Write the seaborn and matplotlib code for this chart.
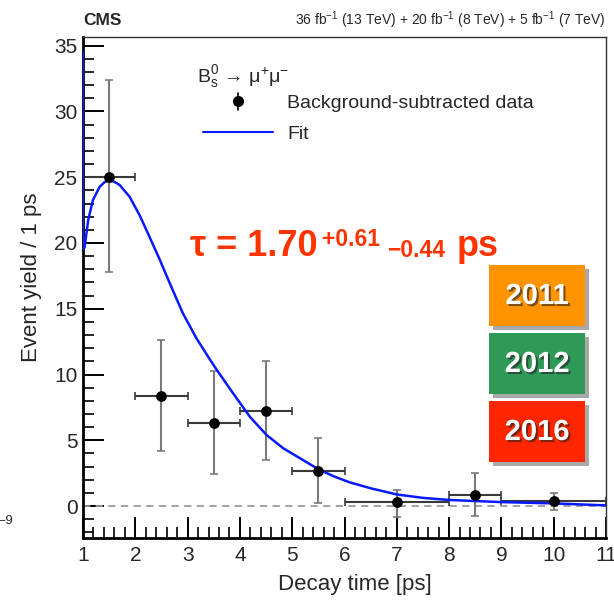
import numpy as np
import pandas as pd
import matplotlib
matplotlib.use("Agg")
import matplotlib.pyplot as plt
import matplotlib.patheffects as pe
from matplotlib.lines import Line2D
from matplotlib.patches import Rectangle
from matplotlib.ticker import MultipleLocator
import seaborn as sns

# ---- data ----
t_center = [1.5, 2.5, 3.5, 4.5, 5.5, 7.0, 8.5, 10.0]
t_halfwidth = [0.5, 0.5, 0.5, 0.5, 0.5, 1.0, 0.5, 1.0]
yield_val = [25.0, 8.35, 6.35, 7.2, 2.65, 0.3, 0.85, 0.4]
yield_hi = [32.4, 12.6, 10.3, 11.0, 5.15, 1.2, 2.5, 1.0]
yield_lo = [17.8, 4.2, 2.4, 3.5, 0.2, -0.85, -0.75, -0.3]

fit_t = [1.0, 1.0, 1.03, 1.1, 1.19, 1.32, 1.42, 1.51, 1.6, 1.7, 1.89, 2.08, 2.27,
         2.47, 2.66, 2.91, 3.17, 3.42, 3.56, 3.87, 4.19, 4.51, 4.83, 5.15, 5.5,
         5.8, 6.1, 6.5, 7.0, 7.5, 8.0, 9.0, 10.0, 11.0]
fit_y = [34.5, 19.5, 19.67, 21.75, 23.27, 24.28, 24.65, 24.74, 24.65, 24.41, 23.52,
         22.13, 20.48, 18.71, 16.93, 14.65, 12.75, 11.18, 10.34, 8.57, 6.79, 5.40,
         4.39, 3.63, 2.8, 2.25, 1.8, 1.35, 0.88, 0.62, 0.46, 0.3, 0.2, 0.05]

years = ["2011", "2012", "2016"]
year_colors = ["#ff9300", "#2f9a58", "#ff2600"]

x_ticks = list(range(1, 12))
y_ticks = [0, 5, 10, 15, 20, 25, 30, 35]

df = pd.DataFrame({"t": t_center, "y": yield_val})
fit_df = pd.DataFrame({"t": fit_t, "y": fit_y})

# ---- figure ----
sns.set_theme(style="ticks")
plt.rcParams["font.family"] = ["Liberation Sans", "DejaVu Sans"]
plt.rcParams["mathtext.fontset"] = "custom"
plt.rcParams["mathtext.rm"] = "Liberation Sans"
plt.rcParams["mathtext.it"] = "Liberation Sans:italic"
plt.rcParams["mathtext.bf"] = "Liberation Sans:bold"

W, H = 614, 600
fig = plt.figure(figsize=(W / 100, H / 100), dpi=100)
ax = fig.add_axes([83 / W, 1 - 538 / H, 523 / W, 501 / H])


def px(x, y):
    return (x / W, 1 - y / H)


ax.set_xlim(1, 11)
ax.set_ylim(-2.43, 35.66)

ax.axhline(0, color="#9a9a9a", lw=1.3, ls=(0, (4, 3)), zorder=1)

yerr = [np.array(yield_val) - np.array(yield_lo), np.array(yield_hi) - np.array(yield_val)]
ax.errorbar(t_center, yield_val, yerr=yerr, fmt="none", ecolor="#7a7a7a",
            elinewidth=1.5, capsize=3, capthick=1.2, zorder=2)
ax.errorbar(t_center, yield_val, xerr=t_halfwidth, fmt="none", ecolor="#3a3a3a",
            elinewidth=1.5, capsize=3, capthick=1.2, zorder=2)

sns.lineplot(data=fit_df, x="t", y="y", estimator=None, sort=False,
             color="#0a1aff", lw=1.8, ax=ax, zorder=3)
sns.scatterplot(data=df, x="t", y="y", color="black", s=60, edgecolor="black",
                linewidth=0, ax=ax, zorder=4)

# ticks
ax.set_xticks(x_ticks)
ax.set_yticks(y_ticks)
ax.xaxis.set_minor_locator(MultipleLocator(0.2))
ax.yaxis.set_minor_locator(MultipleLocator(1))
ax.tick_params(which="major", direction="in", length=15, width=1.4, labelsize=15,
               color="black", pad=6)
ax.tick_params(which="minor", direction="in", length=8, width=1.2, color="black")
ax.tick_params(axis="y", pad=4)
for s in ["left", "bottom"]:
    ax.spines[s].set_linewidth(2)
    ax.spines[s].set_color("black")
for s in ["top", "right"]:
    ax.spines[s].set_linewidth(1)
    ax.spines[s].set_color("#333333")
    ax.spines[s].set_visible(True)

ax.set_xlabel("Decay time [ps]", fontsize=16)
ax.set_ylabel("Event yield / 1 ps", fontsize=16)
ax.xaxis.set_label_coords(0.52, -0.072)
ax.yaxis.set_label_coords(-0.078, 0.52)

# header
fig.text(*px(83, 25), "CMS", fontsize=12.5, fontweight="bold", ha="left", va="baseline")
fig.text(*px(606, 25),
         r"36 fb$^{-1}$ (13 TeV) + 20 fb$^{-1}$ (8 TeV) + 5 fb$^{-1}$ (7 TeV)",
         fontsize=10, ha="right", va="baseline")

# legend
fig.text(*px(197, 82), r"B$_{\rm s}^{0}$ → μ$^{+}$μ$^{-}$", fontsize=14,
         ha="left", va="baseline")
fig.add_artist(Line2D([238 / W, 238 / W], [1 - 93 / H, 1 - 110 / H], color="black", lw=1.2))
fig.add_artist(Line2D([238 / W], [1 - 101 / H], marker="o", color="black", ms=7))
fig.text(*px(287, 108), "Background-subtracted data", fontsize=14, ha="left", va="baseline")
fig.add_artist(Line2D([203 / W, 273 / W], [1 - 132 / H, 1 - 132 / H], color="#0a1aff", lw=1.5))
fig.text(*px(287, 139), "Fit", fontsize=14, ha="left", va="baseline")

# tau text
red = "#ff3300"
fig.text(*px(190, 256), "τ = 1.70", fontsize=26, fontweight="bold", color=red,
         ha="left", va="baseline")
fig.text(*px(322, 246), "+0.61", fontsize=16.5, fontweight="bold", color=red,
         ha="left", va="baseline")
fig.text(*px(387, 257), "\u22120.44", fontsize=16.5, fontweight="bold", color=red,
         ha="left", va="baseline")
fig.text(*px(457, 256), "ps", fontsize=26, fontweight="bold", color=red,
         ha="left", va="baseline")

# year boxes
box_tops = [265, 333, 401]
for yr, col, top in zip(years, year_colors, box_tops):
    r = Rectangle(px(489, top + 61), 96 / W, 61 / H, transform=fig.transFigure,
                  facecolor=col, edgecolor="none",
                  path_effects=[pe.SimplePatchShadow(offset=(3, -3), shadow_rgbFace="#555555", alpha=0.5),
                                pe.Normal()])
    fig.add_artist(r)
    fig.text(*px(537, top + 31), yr, fontsize=21, fontweight="bold", color="white",
             ha="center", va="center",
             path_effects=[pe.withSimplePatchShadow(offset=(1.5, -1.5), shadow_rgbFace="#222222", alpha=0.6)])

fig.text(*px(-2, 524), "–9", fontsize=9.5, ha="left", va="baseline")

fig.savefig("out.png", dpi=100)
